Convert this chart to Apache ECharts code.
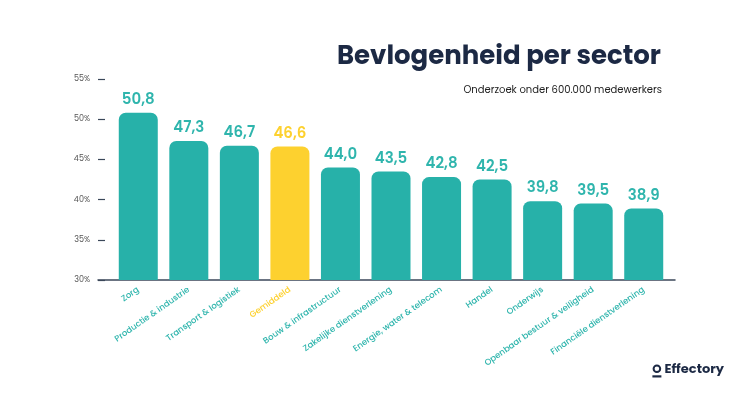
<!DOCTYPE html>
<html><head><meta charset="utf-8">
<script src="https://cdn.jsdelivr.net/npm/echarts@6/dist/echarts.min.js"></script>
<style>html,body{margin:0;padding:0;background:#fff}#c{width:750px;height:394px}</style>
</head><body><div id="c"></div>
<script>
const categories = ['Zorg','Productie & industrie','Transport & logistiek','Gemiddeld','Bouw & infrastructuur','Zakelijke dienstverlening','Energie, water & telecom','Handel','Onderwijs','Openbaar bestuur & veiligheid','Financiële dienstverlening'];
const values = [50.8, 47.3, 46.7, 46.6, 44.0, 43.5, 42.8, 42.5, 39.8, 39.5, 38.9];
const highlight = 'Gemiddeld';
const yMin = 30, yMax = 55, yStep = 5;

const TEAL = '#27b1a9', LTEAL = '#2fb5ad', YELLOW = '#fdd12f', NAVY = '#1c2944';
const FONT = "Poppins, Lato, 'Open Sans', sans-serif";
const chart = echarts.init(document.getElementById('c'), null, {renderer:'canvas'});
chart.setOption({
  animation:false,
  backgroundColor:'#fff',
  title:[
    {text:'Bevlogenheid per sector', right:84, top:39, textStyle:{fontFamily:FONT, fontWeight:'bold', fontSize:26, color:NAVY}},
    {text:'Onderzoek onder 600.000 medewerkers', right:83, top:80, textStyle:{fontFamily:FONT, fontWeight:'normal', fontSize:10, color:'#222'}}
  ],
  grid:[
    {left:113, right:81, top:79, bottom:114},
    {left:98, right:75, top:79, bottom:114}
  ],
  xAxis:[
    {type:'category', gridIndex:0,
     data: categories.map(c => c===highlight ? {value:c, textStyle:{color:YELLOW}} : c),
     axisLine:{show:false}, axisTick:{show:false},
     axisLabel:{rotate:35, interval:0, color:LTEAL, fontSize:8.5, fontWeight:500, fontFamily:FONT, margin:9}},
    {type:'value', gridIndex:1, min:0, max:1, axisLine:{show:true, lineStyle:{color:'#3b4759', width:1.5}},
     axisTick:{show:false}, axisLabel:{show:false}, splitLine:{show:false}}
  ],
  yAxis:[
    {type:'value', gridIndex:0, min:yMin, max:yMax, interval:yStep, offset:8,
     axisLine:{show:false}, axisTick:{show:true, length:7, lineStyle:{color:'#3b4759', width:1.2}},
     splitLine:{show:false},
     axisLabel:{formatter:'{value}%', color:'#555', fontSize:8, fontFamily:FONT, margin:15}},
    {type:'value', gridIndex:1, show:false}
  ],
  series:[{
    type:'bar', xAxisIndex:0, yAxisIndex:0, barWidth:39,
    data: values.map((v,i)=>({value:v,
      itemStyle:{color: categories[i]===highlight?YELLOW:TEAL, borderRadius:[7,7,0,0]},
      label:{color: categories[i]===highlight?YELLOW:LTEAL}})),
    label:{show:true, position:'top', distance:5, fontFamily:FONT, fontWeight:600, fontSize:15,
      formatter:p=>p.value.toFixed(1).replace('.',',')}
  }],
  graphic:[
    {type:'group', right:26, top:363, children:[
      {type:'circle', shape:{cx:4.5, cy:4.5, r:3.3}, style:{fill:'none', stroke:NAVY, lineWidth:2}},
      {type:'rect', shape:{x:0, y:11, width:9, height:2.2}, style:{fill:NAVY}},
      {type:'text', x:12, y:-1, style:{text:'Effectory', fill:NAVY, font:"bold 13px "+FONT}}
    ]}
  ]
});
</script></body></html>
